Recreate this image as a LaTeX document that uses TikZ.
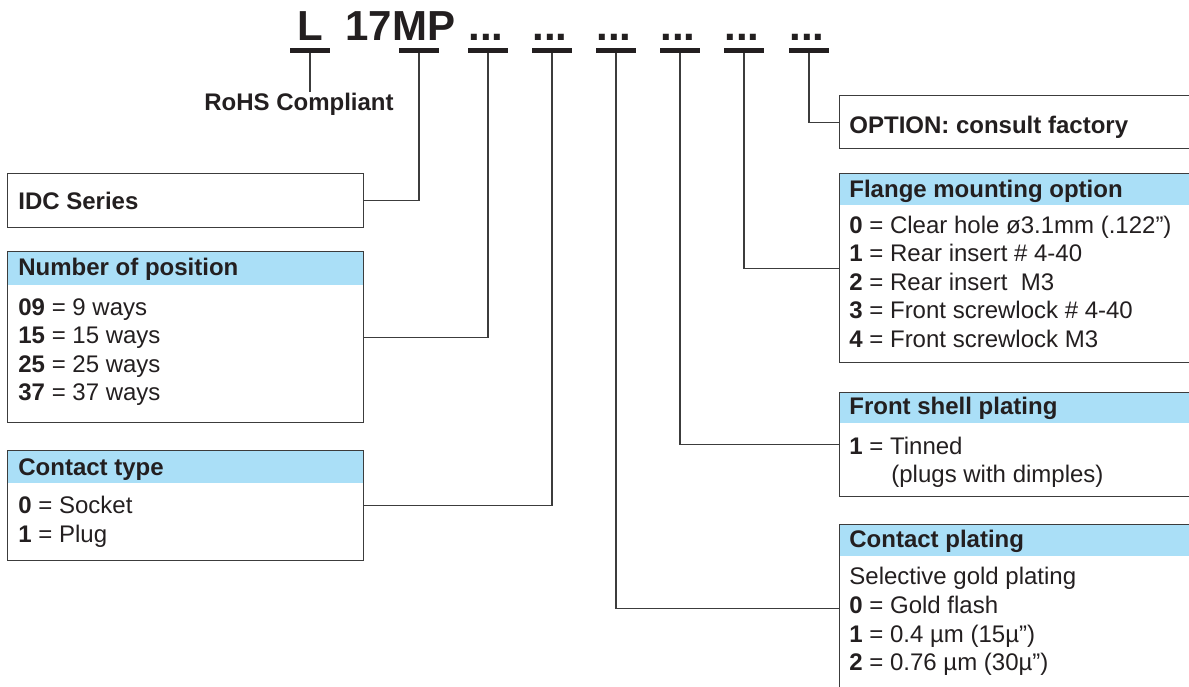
\documentclass[tikz,border=0pt]{standalone}
\usepackage{fontspec}
\setmainfont{Liberation Sans}
\usetikzlibrary{positioning}
\definecolor{hdrblue}{RGB}{170,223,247}
\definecolor{inkgray}{RGB}{35,31,32}
\definecolor{linegray}{RGB}{60,60,60}

\begin{document}
\begin{tikzpicture}[x=0.5pt, y=-0.5pt, font=\fontsize{12}{14}\selectfont, text=inkgray,
    box/.style={draw=linegray, line width=0.65pt, anchor=north west, inner sep=0pt},
    head/.style={fill=hdrblue, anchor=north west, inner sep=0pt},
    txt/.style={anchor=base west, inner sep=0pt},
    link/.style={draw=linegray, line width=0.65pt},
    bar/.style={fill=inkgray, minimum width=20pt, minimum height=2.5pt, inner sep=0pt},
    code/.style={anchor=base, inner sep=0pt, font=\fontsize{21}{24}\selectfont\bfseries}]
    \clip (0,0) rectangle (1189,686);

    % part number
    \node[code, anchor=base west] (sL) at (297,40) {L};
    \node[code, anchor=base west] (sMP) at (345,40) {17MP};
    \foreach \x [count=\i] in {310,419,488,552,616,680,744,809}
        \node[bar] (bar\i) at (\x,50.5) {};
    \foreach \x [count=\i from 3] in {488,552,616,680,744,809}
        \node[code] (dots\i) at ({\x-2},40) {...};
    \node[anchor=base, inner sep=0pt, font=\fontsize{12}{14}\selectfont\bfseries] (rohs) at (299,110) {RoHS Compliant};

    % header fills
    \node[head, minimum width=178pt, minimum height=17pt] (numhead) at (7,251) {};
    \node[head, minimum width=178pt, minimum height=16.5pt] (typehead) at (7,450) {};
    \node[head, minimum width=180.5pt, minimum height=16pt] (flghead) at (839,173) {};
    \node[head, minimum width=180.5pt, minimum height=15.5pt] (shellhead) at (839,392) {};
    \node[head, minimum width=180.5pt, minimum height=16pt] (plathead) at (839,524) {};

    % boxes
    \node[box, minimum width=178pt, minimum height=27pt] (idc) at (7,173) {};
    \node[box, minimum width=178pt, minimum height=85.5pt] (num) at (7,251) {};
    \node[box, minimum width=178pt, minimum height=55pt] (type) at (7,450) {};
    \node[box, minimum width=180.5pt, minimum height=26.5pt] (option) at (839,95) {};
    \node[box, minimum width=180.5pt, minimum height=94.5pt] (flange) at (839,173) {};
    \node[box, minimum width=180.5pt, minimum height=52pt] (shell) at (839,392) {};
    \node[box, minimum width=180.5pt, minimum height=84pt] (plat) at (839,524) {};

    % left texts
    \node[txt] (idctxt) at (18,209) {\bfseries IDC Series};
    \node[txt] (numtitle) at (18,275) {\bfseries Number of position};
    \foreach \c/\t [count=\i] in {09/9 ways, 15/15 ways, 25/25 ways, 37/37 ways}
        \node[txt] (num\i) at (18,{286.5+28.5*\i}) {\textbf{\c} = \t};
    \node[txt] (typetitle) at (18,475) {\bfseries Contact type};
    \node[txt] (type1) at (18,513) {\textbf{0} = Socket};
    \node[txt] (type2) at (18,542) {\textbf{1} = Plug};

    % right texts
    \node[txt] (opttxt) at (849,133) {\bfseries OPTION: consult factory};
    \node[txt] (flgtitle) at (849,197) {\bfseries Flange mounting option};
    \node[txt] (flg1) at (849,233) {\textbf{0} = Clear hole ø3.1mm (.122”)};
    \node[txt] (flg2) at (849,261.5) {\textbf{1} = Rear insert \# 4-40};
    \node[txt] (flg3) at (849,290) {\textbf{2} = Rear insert\ \ M3};
    \node[txt] (flg4) at (849,318.5) {\textbf{3} = Front screwlock \# 4-40};
    \node[txt] (flg5) at (849,347) {\textbf{4} = Front screwlock M3};
    \node[txt] (shelltitle) at (849,414) {\bfseries Front shell plating};
    \node[txt] (shell1) at (849,454) {\textbf{1} = Tinned};
    \node[txt] (shell2) at (891,482) {(plugs with dimples)};
    \node[txt] (plattitle) at (849,547) {\bfseries Contact plating};
    \node[txt] (plat0) at (849,584) {Selective gold plating};
    \node[txt] (plat1) at (849,613) {\textbf{0} = Gold flash};
    \node[txt] (plat2) at (849,642) {\textbf{1} = 0.4 µm (15µ”)};
    \node[txt] (plat3) at (849,670) {\textbf{2} = 0.76 µm (30µ”)};

    % connectors
    \draw[link] (bar1.south) -- (bar1.south |- rohs.north);
    \draw[link] (bar2.south) |- (idc.east);
    \draw[link] (bar3.south) |- (num.east);
    \draw[link] (bar4.south) |- (type.east);
    \draw[link] (bar5.south) |- (plat.west);
    \draw[link] (bar6.south) |- (shell.west);
    \draw[link] (bar7.south) |- (flange.west);
    \draw[link] (bar8.south) |- (option.west);
\end{tikzpicture}
\end{document}
